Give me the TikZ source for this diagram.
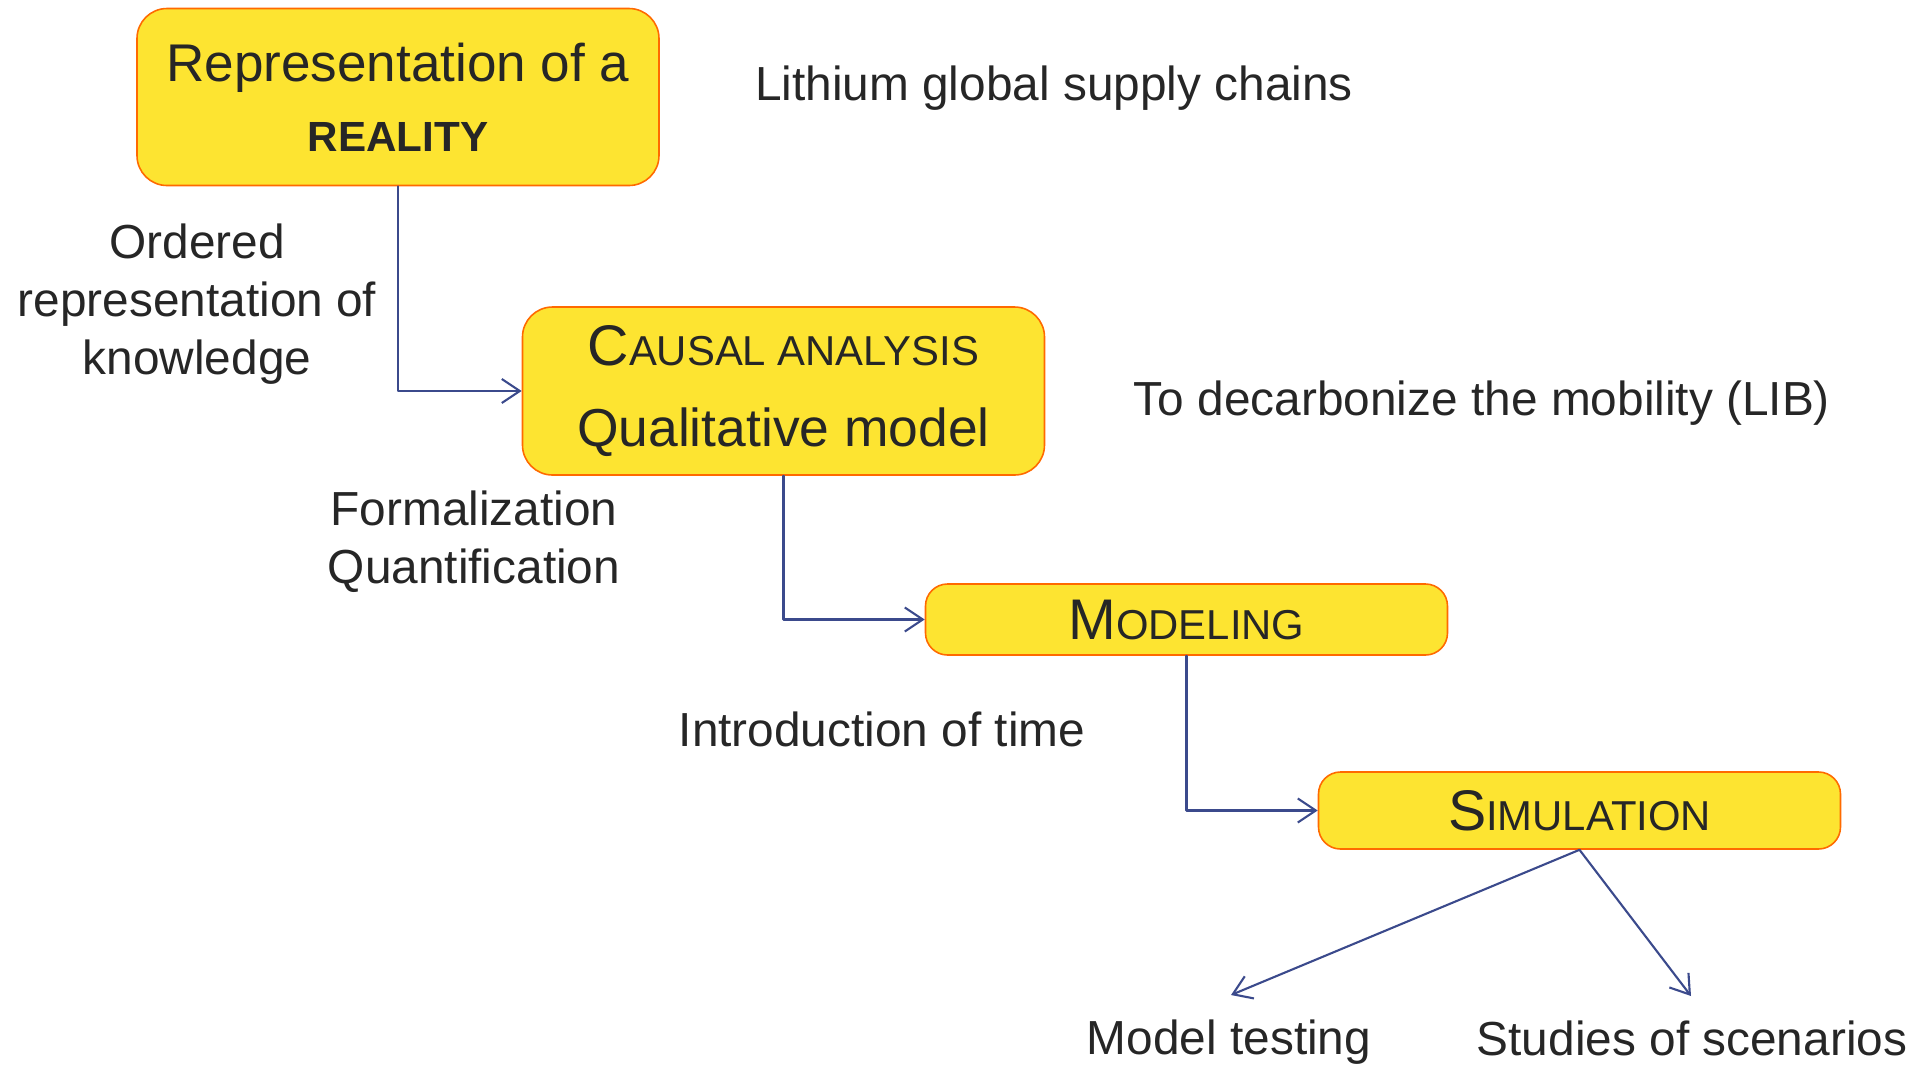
\documentclass[tikz,border=0pt]{standalone}
\usepackage{fontspec}
\setmainfont{Liberation Sans}
\usepackage{xcolor}
\usetikzlibrary{arrows.meta}
\definecolor{boxfill}{HTML}{FDE431}
\definecolor{boxline}{HTML}{FF6A00}
\definecolor{linkblue}{HTML}{3B4A8C}
\definecolor{txt}{HTML}{262626}
\tikzset{>={Straight Barb[length=1.8mm,width=2.4mm]}}
\tikzset{stagebox/.style={draw=boxline,fill=boxfill,line width=0.45pt,rounded corners=2.2mm,
    minimum width=5.22cm,align=center,inner sep=0pt,text=txt}}
\tikzset{note/.style={text=txt,align=center,font=\fontsize{13.6}{16.6}\selectfont}}
\tikzset{link/.style={->,draw=linkblue,line width=0.6pt}}
% first letter full size, the rest as small capitals
\newcommand{\fsc}[2]{{\fontsize{16.3}{18}\selectfont #1}{\fontsize{11.9}{18}\selectfont #2}}

\begin{document}
\begin{tikzpicture}[line cap=round,line join=round,x=1.0cm,y=1.0cm]
			\useasboundingbox (0,0) rectangle (19.21,-10.64);
			% stages
			\node[stagebox,minimum height=1.77cm,rounded corners=3mm] (real) at (3.98,-0.97)
			    {\fontsize{15.1}{18}\selectfont Representation of a\\[8pt]{\bfseries\fontsize{12}{18}\selectfont REALITY}};
			\node[stagebox,minimum height=1.68cm,rounded corners=3mm] (causal) at (7.835,-3.91)
			    {\fsc{C}{AUSAL ANALYSIS}\\[11pt]{\fontsize{15.2}{18}\selectfont Qualitative model}};
			\node[stagebox,minimum height=0.71cm] (model) at (11.865,-6.195) {\fsc{M}{ODELING}};
			\node[stagebox,minimum height=0.77cm] (sim) at (15.795,-8.105) {\fsc{S}{IMULATION}};
			% comments beside the stages
			\node[note] (lith) at (10.54,-0.88) {Lithium global supply chains};
			\node[note] (decarb) at (14.82,-4.03) {To decarbonize the mobility (LIB)};
			\node[note] (order) at (1.97,-3.04) {Ordered\\representation of\\knowledge};
			\node[note] (formal) at (4.74,-5.42) {Formalization\\Quantification};
			\node[note] (time) at (8.82,-7.29) {Introduction of time};
			\node[note] (test) at (12.29,-10.42) {Model testing};
			\node[note] (scen) at (16.92,-10.38) {Studies of scenarios};
			% connectors
			\coordinate (testend) at (12.31,-9.95);
			\coordinate (scenend) at (16.91,-9.96);
			\draw[link] (real.south) |- (causal.west);
			\draw[link] (causal.south) |- (model.west);
			\draw[link] (model.south) |- (sim.west);
			\draw[link] (sim.south) -- (testend);
			\draw[link] (sim.south) -- (scenend);
			\end{tikzpicture}
\end{document}
